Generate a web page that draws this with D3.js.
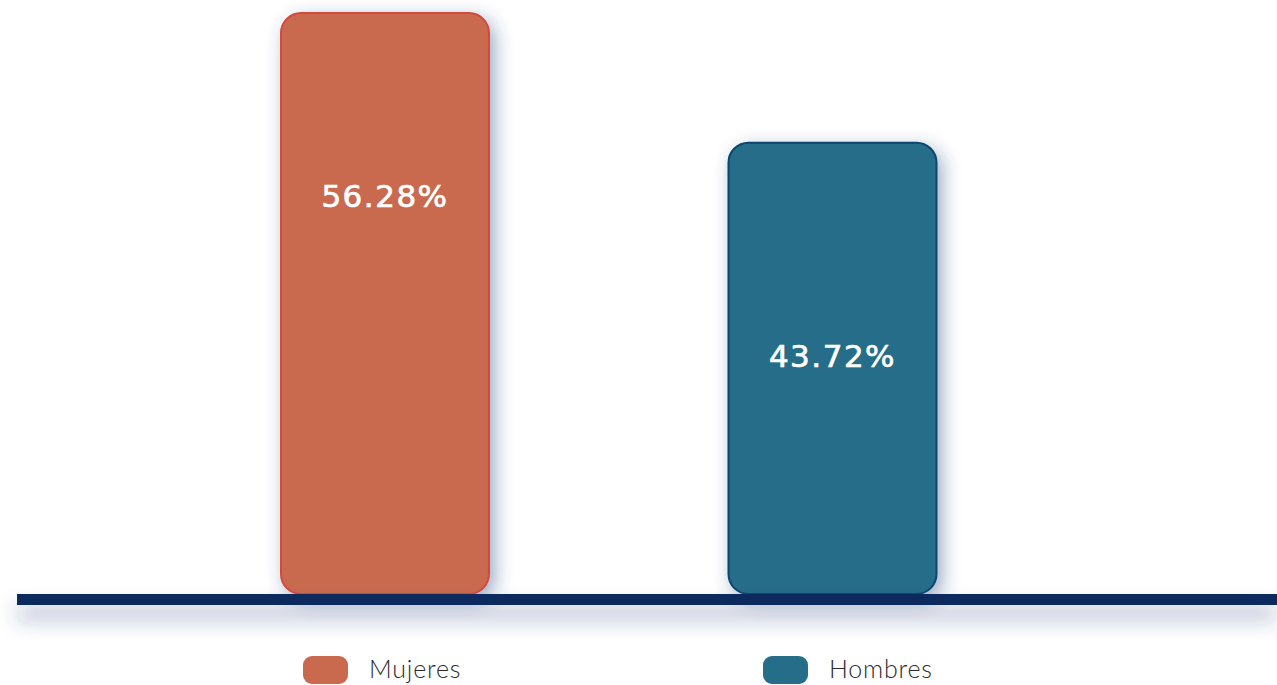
<!DOCTYPE html>
<html lang="es">
<head>
  <meta charset="UTF-8">
  <title>Mujeres / Hombres</title>
  <style>
    body { margin: 0; background: #fff; }
  </style>
</head>
<body>

  <svg id="svg" width="1277" height="685"></svg>

  <script src="https://d3js.org/d3.v7.min.js"></script>
  <script>
    const categories = ['Mujeres', 'Hombres']
    const values = [56.28, 43.72]
    const fills = ['#c96a4f', '#266d8a']
    const strokes = ['#d4493d', '#0b4670']

    // baseline of the value label, as a share of the bar height from the top
    const labelShare = [0.334, 0.497]

    const svg = d3.select('#svg')

    const baseY = 594
    const xScale = d3.scaleBand()
      .domain(categories)
      .range([17, 1277])
      .paddingInner(0.5352)
      .paddingOuter(0.6754)
      .align(0.4367)

    const yScale = d3.scaleLinear()
      .domain([0, d3.max(values)])
      .range([baseY, 13])

    // --------------- shadows ---------------
    const defs = svg.append('defs')
    defs.append('filter')
      .attr('id', 'barShadow')
      .attr('x', '-30%').attr('y', '-10%')
      .attr('width', '160%').attr('height', '130%')
      .append('feDropShadow')
      .attr('dx', 5).attr('dy', 6)
      .attr('stdDeviation', 9)
      .attr('flood-color', '#27457a')
      .attr('flood-opacity', 0.45)

    defs.append('filter')
      .attr('id', 'lineShadow')
      .attr('filterUnits', 'userSpaceOnUse')
      .attr('x', -40).attr('y', 560)
      .attr('width', 1360).attr('height', 110)
      .append('feDropShadow')
      .attr('dx', 0).attr('dy', 14)
      .attr('stdDeviation', 10)
      .attr('flood-color', '#27457a')
      .attr('flood-opacity', 0.4)

    // --------------- bars ---------------
    const data = categories.map((c, i) => ({ cat: c, value: values[i], i }))

    const groups = svg.selectAll('g.bar')
      .data(data)
      .enter()
      .append('g')
      .attr('class', 'bar')

    groups.append('rect')
      .attr('x', d => xScale(d.cat))
      .attr('y', d => yScale(d.value))
      .attr('width', xScale.bandwidth())
      .attr('height', d => baseY - yScale(d.value))
      .attr('rx', 20)
      .attr('fill', d => fills[d.i])
      .attr('stroke', d => strokes[d.i])
      .attr('stroke-width', 2)
      .attr('filter', 'url(#barShadow)')

    groups.append('text')
      .text(d => d.value.toFixed(2) + '%')
      .attr('x', d => xScale(d.cat) + xScale.bandwidth() / 2)
      .attr('y', d => yScale(d.value) + (baseY - yScale(d.value)) * labelShare[d.i])
      .attr('text-anchor', 'middle')
      .attr('fill', '#fff')
      .attr('stroke', '#fff')
      .attr('stroke-width', 0.7)
      .style('font-family', '"DejaVu Sans", sans-serif')
      .style('font-size', '31px')
      .style('letter-spacing', '1.5px')

    // --------------- baseline ---------------
    svg.append('rect')
      .attr('x', 17)
      .attr('y', baseY)
      .attr('width', 1277 - 17)
      .attr('height', 11)
      .attr('fill', '#082b5e')
      .attr('filter', 'url(#lineShadow)')

    // --------------- legend ---------------
    const legend = svg.selectAll('g.legend')
      .data(data)
      .enter()
      .append('g')
      .attr('class', 'legend')
      .attr('transform', d => `translate(${303 + d.i * 460}, 656)`)

    legend.append('rect')
      .attr('width', 45)
      .attr('height', 28)
      .attr('rx', 9)
      .attr('fill', d => fills[d.i])

    legend.append('text')
      .text(d => d.cat)
      .attr('x', 66)
      .attr('y', 22)
      .attr('fill', '#2b2b2b')
      .style('font-family', 'Lato, sans-serif')
      .style('font-weight', 300)
      .style('font-size', '25px')
      .style('letter-spacing', '0.8px')
  </script>
</body>
</html>
